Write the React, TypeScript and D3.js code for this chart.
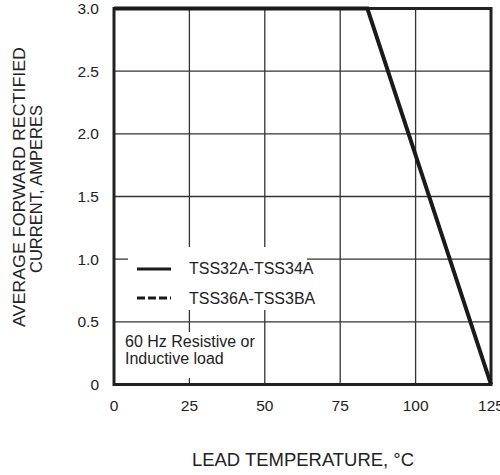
import React from 'react';
import { scaleLinear, line } from 'd3';

// derating curve
const leadTemp = [0, 84, 125];
const avgCurrent = [3.0, 3.0, 0];

const xTicks = [0, 25, 50, 75, 100, 125];
const xTickLabels = ['0', '25', '50', '75', '100', '125'];
const yTicks = [0, 0.5, 1.0, 1.5, 2.0, 2.5, 3.0];
const yTickLabels = ['0', '0.5', '1.0', '1.5', '2.0', '2.5', '3.0'];

const legendNames = ['TSS32A-TSS34A', 'TSS36A-TSS3BA'];
const noteLines = ['60 Hz Resistive or', 'Inductive load'];

const W = 500;
const H = 475;
const INK = '#222';
const FONT = '"Liberation Sans", Arial, sans-serif';

export default function App() {
  const x = scaleLinear().domain([0, 125]).range([114, 491]);
  const y = scaleLinear().domain([0, 3]).range([384.5, 8.5]);

  const pts = leadTemp.map((t, i) => [x(t), y(avgCurrent[i])] as [number, number]);
  const curve = line()(pts) || '';

  const [x0, x1] = x.range();
  const [yBot, yTop] = y.range();

  return (
    <svg
      width={W}
      height={H}
      style={{ position: 'absolute', left: 0, top: 0, background: '#fff' }}
      fontFamily={FONT}
    >
      {/* grid */}
      <g stroke="#333" strokeWidth={1.3}>
        {yTicks.slice(1, -1).map((t) => (
          <line key={`h${t}`} x1={x0} x2={x1} y1={y(t)} y2={y(t)} />
        ))}
        {xTicks.slice(1, -1).map((t) => (
          <line key={`v${t}`} x1={x(t)} x2={x(t)} y1={yTop} y2={yBot} />
        ))}
      </g>

      {/* blank areas behind legend and note */}
      <rect x={128} y={247} width={179} height={63} fill="#fff" />
      <rect x={x0} y={332} width={148} height={46} fill="#fff" />

      {/* frame */}
      <rect
        x={x0}
        y={yTop}
        width={x1 - x0}
        height={yBot - yTop}
        fill="none"
        stroke={INK}
        strokeWidth={3}
      />

      {/* curve */}
      <path d={curve} fill="none" stroke="#1a1a1a" strokeWidth={4} strokeLinejoin="miter" />

      {/* y tick labels */}
      <g fontSize={15.5} fill={INK} textAnchor="end">
        {yTicks.map((t, i) => (
          <text key={t} x={99} y={y(t)} dy="0.36em">
            {yTickLabels[i]}
          </text>
        ))}
      </g>

      {/* x tick labels */}
      <g fontSize={15.5} fill={INK} textAnchor="middle">
        {xTicks.map((t, i) => (
          <text key={t} x={x(t)} y={405} dy="0.36em">
            {xTickLabels[i]}
          </text>
        ))}
      </g>

      {/* legend */}
      <line x1={137} x2={171} y1={269} y2={269} stroke="#1a1a1a" strokeWidth={3} />
      <line
        x1={137}
        x2={171}
        y1={298}
        y2={298}
        stroke="#1a1a1a"
        strokeWidth={3}
        strokeDasharray="8,3"
      />
      <g fontSize={16} fill={INK}>
        {legendNames.map((n, i) => (
          <text key={n} x={189} y={268 + i * 30} dy="0.36em">
            {n}
          </text>
        ))}
        {noteLines.map((n, i) => (
          <text key={n} x={125} y={341 + i * 17} dy="0.36em">
            {n}
          </text>
        ))}
      </g>

      {/* axis titles */}
      <text
        x={303}
        y={460}
        dy="0.36em"
        fontSize={18}
        fill={INK}
        textAnchor="middle"
        textLength={222}
        lengthAdjust="spacingAndGlyphs"
      >
        LEAD TEMPERATURE, °C
      </text>
      <g transform="rotate(-90)" fill={INK} textAnchor="middle" fontSize={17}>
        <text
          x={-187}
          y={19}
          dy="0.36em"
          textLength={280}
          lengthAdjust="spacingAndGlyphs"
        >
          AVERAGE FORWARD RECTIFIED
        </text>
        <text
          x={-189}
          y={36}
          dy="0.36em"
          textLength={168}
          lengthAdjust="spacingAndGlyphs"
        >
          CURRENT, AMPERES
        </text>
      </g>
    </svg>
  );
}
